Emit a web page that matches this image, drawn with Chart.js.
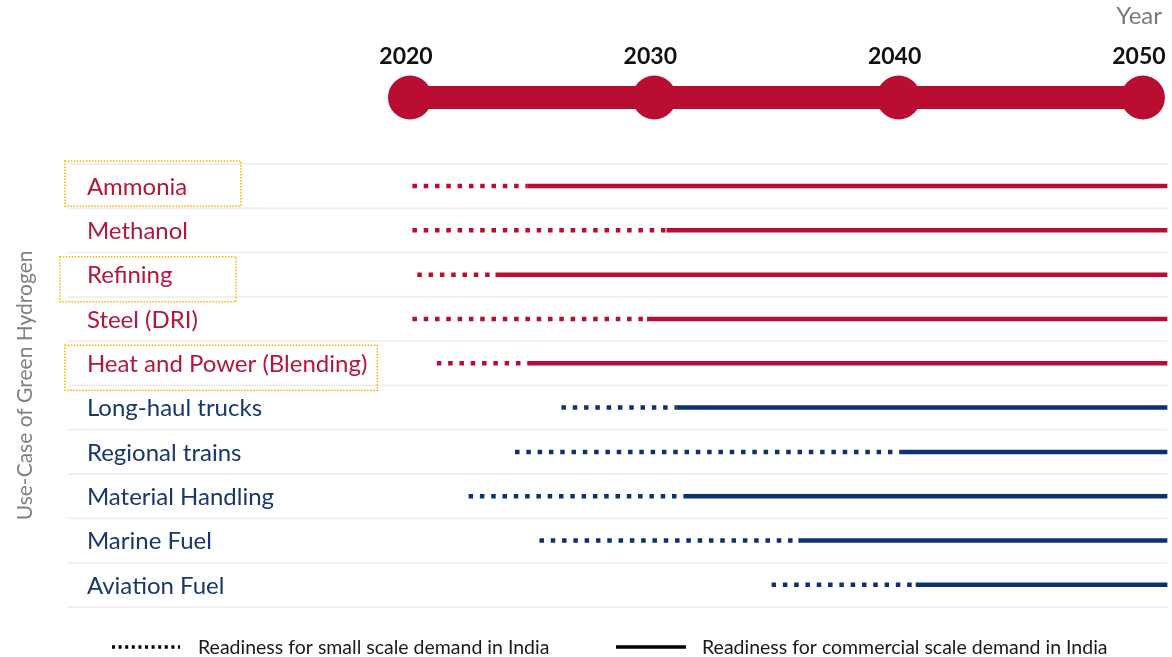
<!DOCTYPE html>
<html>
<head>
<meta charset="utf-8">
<script src="https://cdn.jsdelivr.net/npm/chart.js@4.4.1/dist/chart.umd.min.js"></script>
<style>
  html, body { margin: 0; padding: 0; background: #ffffff; }
  #wrap { width: 1172px; height: 657px; position: relative; }
</style>
</head>
<body>
<div id="wrap"><canvas id="roadmap" width="1172" height="657"></canvas></div>
<script>
// use-cases, top to bottom
const useCases = [
    'Ammonia',
    'Methanol',
    'Refining',
    'Steel (DRI)',
    'Heat and Power (Blending)',
    'Long-haul trucks',
    'Regional trains',
    'Material Handling',
    'Marine Fuel',
    'Aviation Fuel'
];
const sectors = ['industry', 'industry', 'industry', 'industry', 'industry',
                 'mobility', 'mobility', 'mobility', 'mobility', 'mobility'];
const highlighted = [true, false, true, false, true, false, false, false, false, false];

// year where small scale readiness starts / commercial scale readiness starts
const smallScaleStart = [2020.1, 2020.1, 2020.3, 2020.1, 2021.1, 2026.2, 2024.3, 2022.4, 2025.3, 2034.8];
const commercialStart = [2024.8, 2030.5, 2023.5, 2029.7, 2024.8, 2030.9, 2040.1, 2031.2, 2035.9, 2040.7];
const horizonEnd = 2051;

const milestoneYears = [2020, 2030, 2040, 2050];
const gridFrom = 2006;

const colors = {
    industry: '#b90d31',
    mobility: '#0b3370',
    industryText: '#b5173c',
    mobilityText: '#18386c',
    grid: '#efefef',
    box: '#f7b500'
};

const timelineRow = -2;

let datasets = [];

// row separators
for (let i = 0; i <= useCases.length; i++) {
    datasets.push({
        data: [{x: gridFrom, y: i - 0.5}, {x: horizonEnd, y: i - 0.5}],
        borderColor: colors.grid,
        borderWidth: 2,
        pointRadius: 0
    });
}

// timeline bar with milestones
datasets.push({
    data: milestoneYears.map(y => ({x: y, y: timelineRow})),
    borderColor: colors.industry,
    backgroundColor: colors.industry,
    borderWidth: 23,
    pointRadius: 22,
    pointBorderWidth: 0,
    pointBackgroundColor: colors.industry
});

for (let i = 0; i < useCases.length; i++) {
    let c = colors[sectors[i]];
    datasets.push({
        data: [{x: smallScaleStart[i], y: i}, {x: commercialStart[i], y: i}],
        borderColor: c,
        borderWidth: 4.5,
        borderDash: [4.5, 6.8],
        borderCapStyle: 'butt',
        pointRadius: 0
    });
    datasets.push({
        data: [{x: commercialStart[i], y: i}, {x: horizonEnd, y: i}],
        borderColor: c,
        borderWidth: 4.5,
        borderCapStyle: 'butt',
        pointRadius: 0
    });
}

const textPlugin = {
    id: 'roadmapText',
    afterDatasetsDraw(chart) {
        const ctx = chart.ctx;
        const xs = chart.scales.x;
        const ys = chart.scales.y;
        const labelX = xs.getPixelForValue(gridFrom) + 19;
        ctx.save();

        // use-case labels
        ctx.font = '24px Lato';
        ctx.textBaseline = 'middle';
        ctx.textAlign = 'left';
        for (let i = 0; i < useCases.length; i++) {
            let y = ys.getPixelForValue(i);
            ctx.fillStyle = sectors[i] === 'industry' ? colors.industryText : colors.mobilityText;
            ctx.fillText(useCases[i], labelX, y + 1);
            if (highlighted[i]) {
                let w = ctx.measureText(useCases[i]).width;
                let top = i === 0 ? y - 25 : y - 18;
                let left = i === 2 ? labelX - 27 : labelX - 22;
                ctx.strokeStyle = colors.box;
                ctx.lineWidth = 1.5;
                ctx.setLineDash([1.5, 1.5]);
                ctx.strokeRect(left, top, Math.max(w + 32, 176), 45);
                ctx.setLineDash([]);
            }
        }

        // milestone years
        ctx.font = 'bold 23px Lato';
        ctx.fillStyle = '#111111';
        ctx.textAlign = 'center';
        for (const yr of milestoneYears) {
            ctx.fillText(String(yr), xs.getPixelForValue(yr) - 4, ys.getPixelForValue(timelineRow) - 41);
        }

        ctx.font = '24px Lato';
        ctx.fillStyle = '#7a7a7a';
        ctx.textAlign = 'right';
        ctx.fillText('Year', 1162, 16);

        // rotated axis title
        ctx.translate(25, (ys.getPixelForValue(0) + ys.getPixelForValue(useCases.length - 1)) / 2);
        ctx.rotate(-Math.PI / 2);
        ctx.font = '21px Lato';
        ctx.textAlign = 'center';
        ctx.fillStyle = '#808080';
        ctx.fillText('Use-Case of Green Hydrogen', 0, 0);
        ctx.restore();

        // legend
        ctx.save();
        let ly = 647;
        ctx.strokeStyle = '#000000';
        ctx.lineWidth = 3.5;
        ctx.setLineDash([3, 3.6]);
        ctx.beginPath();
        ctx.moveTo(112, ly);
        ctx.lineTo(180, ly);
        ctx.stroke();
        ctx.setLineDash([]);
        ctx.beginPath();
        ctx.moveTo(616, ly);
        ctx.lineTo(686, ly);
        ctx.stroke();
        ctx.font = '19.5px Lato';
        ctx.fillStyle = '#1a1a1a';
        ctx.textBaseline = 'middle';
        ctx.textAlign = 'left';
        ctx.fillText('Readiness for small scale demand in India', 198, ly + 1);
        ctx.fillText('Readiness for commercial scale demand in India', 702, ly + 1);
        ctx.restore();
    }
};

const ctx = document.getElementById('roadmap');
new Chart(ctx, {
    type: 'line',
    data: { datasets },
    options: {
        responsive: false,
        animation: false,
        maintainAspectRatio: false,
        layout: { padding: 0, autoPadding: false },
        plugins: { legend: { display: false }, tooltip: { enabled: false } },
        elements: { line: { tension: 0 } },
        datasets: { line: { clip: false } },
        scales: {
            x: { type: 'linear', display: false, min: 2003.22, max: 2051.19 },
            y: { type: 'linear', display: false, reverse: true, min: -4.2, max: 10.63 }
        }
    },
    plugins: [textPlugin]
});
</script>
</body>
</html>
